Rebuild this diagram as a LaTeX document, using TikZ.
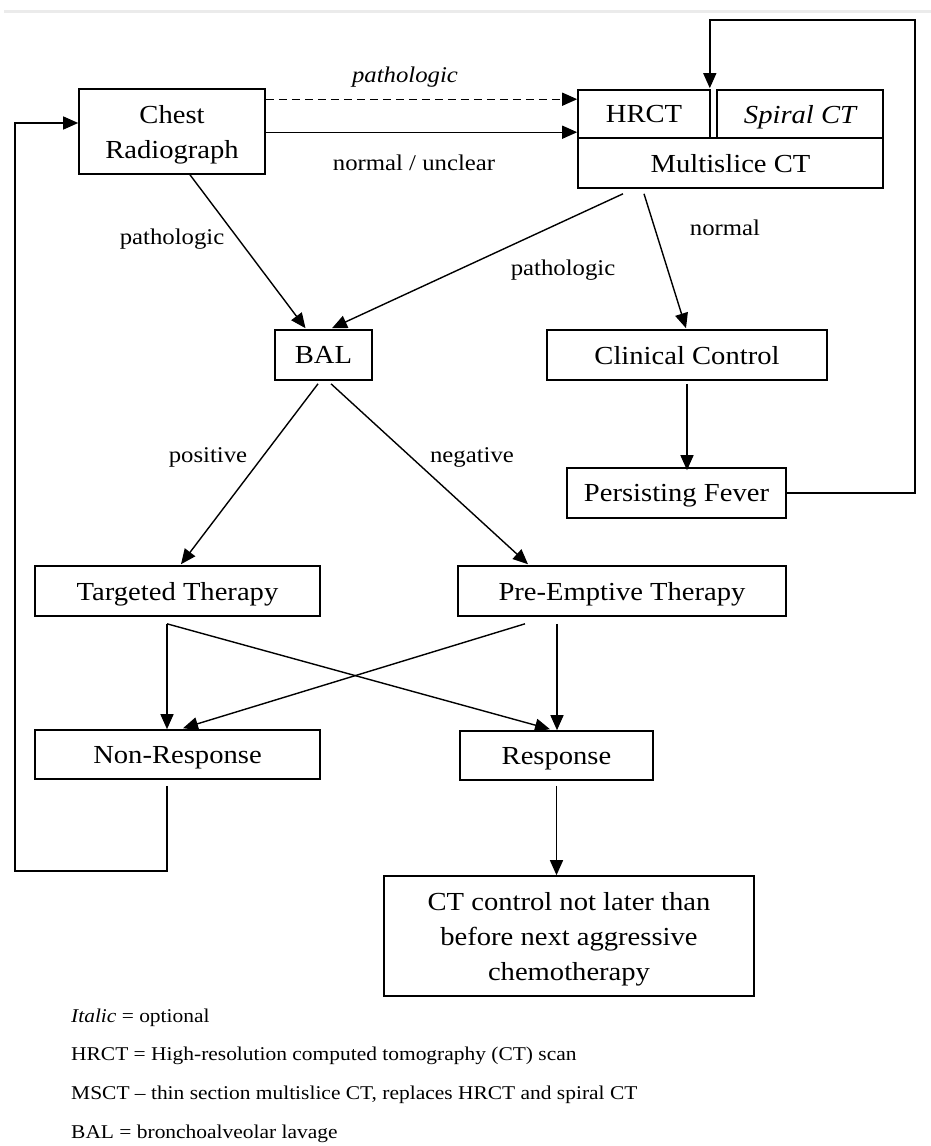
\documentclass[tikz,border=0pt]{standalone}
\usepackage{fontspec}
\setmainfont{Liberation Serif}[FakeStretch=1.1]
\usetikzlibrary{arrows.meta,calc}
\tikzset{
  box/.style={draw, line width=1.6pt, inner sep=0pt, align=center, text depth=0pt, font=\fontsize{26}{35}\selectfont},
  conn/.style={line width=1.4pt, -{Triangle[length=15pt,width=13pt]}},
  lbl/.style={font=\fontsize{22.5}{27}\selectfont},
  legend/.style={anchor=west, inner sep=0pt, font=\fontsize{19.5}{24}\selectfont},
}
\begin{document}
\begin{tikzpicture}[x=1pt,y=-1pt]
\useasboundingbox (0,0) rectangle (931,1146);
\fill[white] (0,0) rectangle (931,1146);
\draw[line width=3pt, color=black!8] (4,11.5) -- (931,11.5);

% nodes
\node[box, minimum width=186pt, minimum height=85pt] (chest) at (172,131.5) {Chest\\Radiograph};
\node[box, minimum width=132pt, minimum height=48pt] (hrct) at (644,114) {HRCT};
\node[box, minimum width=166pt, minimum height=48pt] (spiral) at (800,114) {\itshape Spiral CT};
\node[box, minimum width=305pt, minimum height=50pt] (msct) at (730.5,163) {Multislice CT};
\node[box, minimum width=97pt, minimum height=50pt] (bal) at (323.5,355) {BAL};
\node[box, minimum width=280pt, minimum height=50pt] (clin) at (687,355) {Clinical Control};
\node[box, minimum width=219pt, minimum height=50pt] (pf) at (676.5,493) {Persisting Fever};
\node[box, minimum width=285pt, minimum height=50pt] (targ) at (177.5,591) {Targeted Therapy};
\node[box, minimum width=328pt, minimum height=50pt] (pre) at (622,591) {Pre-Emptive Therapy};
\node[box, minimum width=285pt, minimum height=49pt] (non) at (177.5,754.5) {Non-Response};
\node[box, minimum width=193pt, minimum height=49pt] (resp) at (556.5,755.5) {Response};
\node[box, minimum width=370pt, minimum height=120pt] (ct) at (569,936) {CT control not later than\\before next aggressive\\chemotherapy};

% labels
\node[lbl] (l1) at (405,77) {\itshape pathologic};
\node[lbl] (l2) at (414,163) {normal / unclear};
\node[lbl] (l3) at (172,239) {pathologic};
\node[lbl] (l4) at (563,270) {pathologic};
\node[lbl] (l5) at (725,228) {normal};
\node[lbl] (l6) at (208,457) {positive};
\node[lbl] (l7) at (472,457) {negative};

% top connectors
\coordinate (d1) at ([yshift=-11pt]chest.north east);
\coordinate (d2) at ([yshift=-44pt]chest.north east);
\draw[conn, dash pattern=on 8pt off 5pt] (d1) -- (d1 -| hrct.west);
\draw[conn] (d2) -- (d2 -| hrct.west);

\draw[conn] ([xshift=18pt]chest.south) -- ([xshift=-18pt,yshift=1pt]bal.north);
\draw[conn] ([xshift=-107.5pt,yshift=-5pt]msct.south) -- ([xshift=8.5pt,yshift=1pt]bal.north);
\draw[conn] ([xshift=-86.5pt,yshift=-5pt]msct.south) -- ([xshift=-1pt,yshift=1pt]clin.north);
\draw[conn] ([yshift=-3pt]clin.south) -- ([yshift=-3pt]clin.south |- pf.north);

% persisting fever loop
\coordinate (pfr) at (915,0);
\coordinate (top) at (0,20);
\coordinate (hin) at ([xshift=-1pt,yshift=1pt]hrct.north east);
\draw[conn] (pf.east) -- (pf.east -| pfr) -- (pfr |- top) -- (hin |- top) -- (hin);

% BAL outcomes
\draw[conn] ([xshift=-5.5pt,yshift=-3pt]bal.south) -- ([xshift=3.5pt,yshift=1pt]targ.north);
\draw[conn] ([xshift=7.5pt,yshift=-3pt]bal.south) -- ([xshift=-94pt,yshift=1pt]pre.north);

% therapies to outcomes
\coordinate (ts) at ([xshift=-10.5pt,yshift=-7pt]targ.south);
\draw[conn] (ts) -- (ts |- non.north);
\draw[conn] (ts) -- ([xshift=-6.5pt,yshift=1pt]resp.north);
\draw[conn] ([xshift=-97pt,yshift=-7pt]pre.south) -- ([xshift=5.5pt,yshift=1pt]non.north);
\coordinate (ps) at ([xshift=-65pt,yshift=-7pt]pre.south);
\draw[conn] (ps) -- (ps |- resp.north);

\coordinate (rs) at ([yshift=-5pt]resp.south);
\draw[conn] (rs) -- (rs |- ct.north);

% non-response loop
\coordinate (ns) at ([xshift=-10.5pt,yshift=-6pt]non.south);
\coordinate (lb) at (15,871);
\coordinate (cin) at ([yshift=8.5pt]chest.west);
\draw[conn] (ns) -- (ns |- lb) -- (lb) -- (lb |- cin) -- (cin);

% legend
\node[legend] (g1) at (71,1018) {\itshape Italic\upshape{} = optional};
\node[legend] (g2) at (71,1056) {HRCT = High-resolution computed tomography (CT) scan};
\node[legend] (g3) at (71,1095) {MSCT – thin section multislice CT, replaces HRCT and spiral CT};
\node[legend] (g4) at (71,1134) {BAL = bronchoalveolar lavage};
\end{tikzpicture}
\end{document}
